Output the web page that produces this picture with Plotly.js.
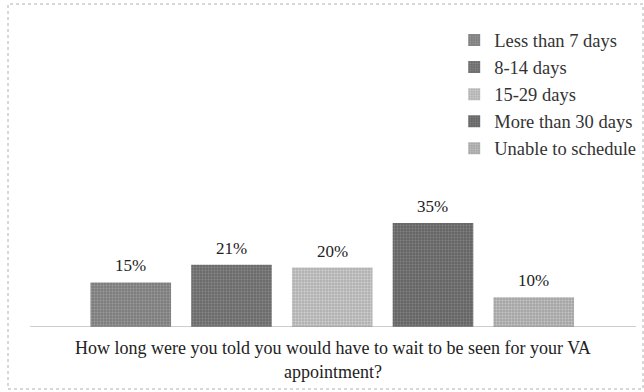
<!DOCTYPE html>
<html>
<head>
<meta charset="utf-8">
<script src="https://cdn.plot.ly/plotly-3.0.1.min.js"></script>
<style>
  html, body { margin: 0; padding: 0; background: #fff; }
  #chart { width: 644px; height: 392px; }
</style>
</head>
<body>
<div id="chart"></div>
<script>
// Survey answers: reported wait time for a VA appointment
const categories = ['Less than 7 days', '8-14 days', '15-29 days', 'More than 30 days', 'Unable to schedule'];
const percents = [15, 21, 20, 35, 10];
const barColors = ['#7c7c7c', '#6a6a6a', '#b2b2b2', '#646464', '#a6a6a6'];
const grainColors = ['#9c9c9c', '#8a8a8a', '#d2d2d2', '#848484', '#c6c6c6'];
const questionText = 'How long were you told you would have to wait to be seen for your VA<br>appointment?';

const serif = "'Liberation Serif', 'Times New Roman', Times, serif";

const traces = categories.map((cat, i) => ({
  type: 'bar',
  name: cat,
  x: [cat],
  y: [percents[i]],
  width: 0.8,
  marker: {
    color: barColors[i],
    line: { width: 0 },
    pattern: { shape: '.', fgcolor: grainColors[i], bgcolor: barColors[i], size: 3, solidity: 0.35 }
  },
  hoverinfo: 'skip'
}));

const labels = categories.map((cat, i) => ({
  x: cat,
  y: percents[i],
  xref: 'x',
  yref: 'y',
  text: percents[i] + '%',
  showarrow: false,
  yanchor: 'bottom',
  yshift: 5,
  font: { family: serif, size: 17, color: '#222' }
}));

const layout = {
  width: 644,
  height: 392,
  margin: { l: 30, r: 8, t: 20, b: 65, autoexpand: false },
  paper_bgcolor: '#fff',
  plot_bgcolor: '#fff',
  barmode: 'overlay',
  showlegend: true,
  legend: {
    x: 0.70, xanchor: 'left',
    y: 0.995, yanchor: 'top',
    font: { family: serif, size: 18.5, color: '#333' },
    bgcolor: 'rgba(0,0,0,0)',
    itemwidth: 30
  },
  xaxis: {
    type: 'category',
    range: [-1, 5.015],
    showticklabels: false,
    ticks: '',
    showgrid: false,
    zeroline: false,
    showline: false,
    title: {
      text: questionText,
      font: { family: serif, size: 18, color: '#222' },
      standoff: 14
    }
  },
  yaxis: {
    range: [0, 103.4],
    visible: false,
    showgrid: false
  },
  shapes: [
    // baseline under the bars
    { type: 'line', xref: 'paper', yref: 'y', x0: 0, x1: 1, y0: 0, y1: 0,
      line: { color: '#9a9a9a', width: 1 } },
    // outer frame
    { type: 'rect', xref: 'paper', yref: 'paper',
      x0: -0.0363, x1: 1.0116, y0: -0.202, y1: 1.052,
      line: { color: '#b0b0b0', width: 1, dash: 'dot' } }
  ],
  annotations: labels,
  font: { family: serif, color: '#222' }
};

Plotly.newPlot('chart', traces, layout, { displayModeBar: false, staticPlot: true });
</script>
</body>
</html>
